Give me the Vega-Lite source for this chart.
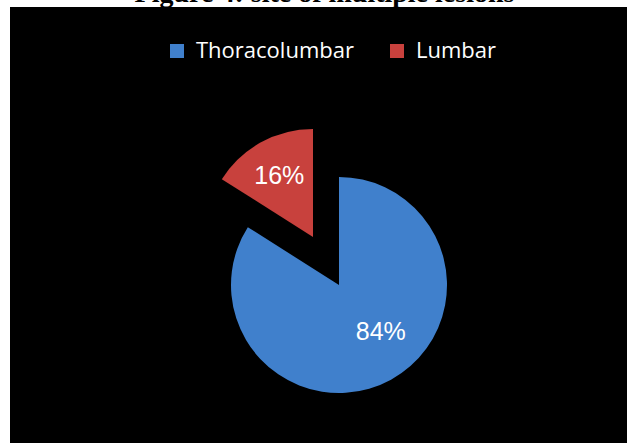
{
  "$schema": "https://vega.github.io/schema/vega-lite/v6.json",
  "width": 617,
  "height": 436,
  "autosize": {"type": "none"},
  "padding": {"left": 10, "top": 7, "right": 0, "bottom": 0},
  "background": "white",
  "view": {"fill": "black", "stroke": null},
  "title": {
    "text": "Figure 4: site of multiple lesions",
    "font": "Liberation Serif",
    "fontSize": 28,
    "fontWeight": "bold",
    "color": "black",
    "anchor": "middle",
    "baseline": "alphabetic",
    "offset": -2,
    "dx": 6,
    "dy": 21
  },
  "config": {
    "legend": {
      "labelFont": "Open Sans",
      "labelFontSize": 22,
      "labelColor": "white",
      "symbolType": "square",
      "symbolSize": 196,
      "symbolStrokeWidth": 0,
      "labelOffset": 8,
      "columnPadding": 32,
      "padding": 0
    }
  },
  "data": {
    "values": [
      {"site": "Thoracolumbar", "value": 84, "label": "84%"},
      {"site": "Lumbar", "value": 16, "label": "16%"}
    ]
  },
  "layer": [
    {
      "mark": {"type": "rect", "color": "black"},
      "encoding": {
        "x": {"value": 0},
        "x2": {"value": "width"},
        "y": {"value": 0},
        "y2": {"value": "height"}
      }
    },
    {
      "mark": {"type": "arc", "outerRadius": 108, "x": 329, "y": 278},
      "encoding": {
        "theta": {"field": "value", "type": "quantitative", "stack": true},
        "order": {"field": "value", "type": "quantitative", "sort": "descending"},
        "color": {
          "field": "site",
          "type": "nominal",
          "scale": {"domain": ["Thoracolumbar", "Lumbar"], "range": ["#4080cc", "#c8413d"]},
          "legend": {"title": null, "orient": "none", "direction": "horizontal", "legendX": 156, "legendY": 33}
        },
        "opacity": {"condition": {"test": "datum.site === 'Lumbar'", "value": 0}, "value": 1}
      }
    },
    {
      "mark": {"type": "arc", "outerRadius": 108, "x": 303, "y": 230},
      "encoding": {
        "theta": {"field": "value", "type": "quantitative", "stack": true},
        "order": {"field": "value", "type": "quantitative", "sort": "descending"},
        "color": {"field": "site", "type": "nominal"},
        "opacity": {"condition": {"test": "datum.site === 'Lumbar'", "value": 1}, "value": 0}
      }
    },
    {
      "mark": {"type": "text", "radius": 64, "x": 329, "y": 278, "dx": 11, "dy": -9, "font": "Liberation Sans", "fontSize": 25, "color": "white"},
      "encoding": {
        "theta": {"field": "value", "type": "quantitative", "stack": true},
        "order": {"field": "value", "type": "quantitative", "sort": "descending"},
        "text": {"field": "label"},
        "opacity": {"condition": {"test": "datum.site === 'Lumbar'", "value": 0}, "value": 1}
      }
    },
    {
      "mark": {"type": "text", "radius": 70, "x": 303, "y": 230, "font": "Liberation Sans", "fontSize": 25, "color": "white"},
      "encoding": {
        "theta": {"field": "value", "type": "quantitative", "stack": true},
        "order": {"field": "value", "type": "quantitative", "sort": "descending"},
        "text": {"field": "label"},
        "opacity": {"condition": {"test": "datum.site === 'Lumbar'", "value": 1}, "value": 0}
      }
    }
  ]
}
